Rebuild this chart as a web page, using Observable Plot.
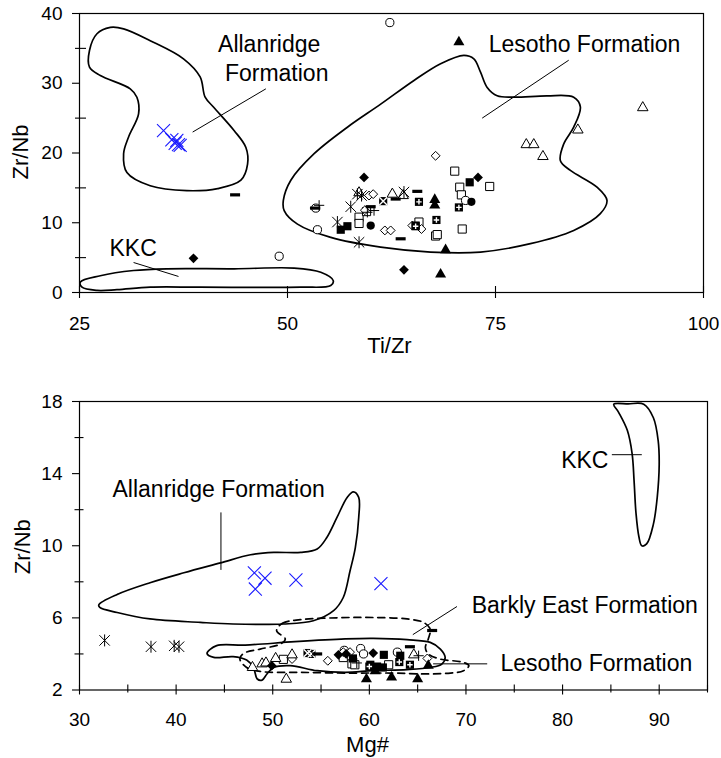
<!DOCTYPE html>
<html>
<head>
<meta charset="utf-8">
<script src="https://cdn.jsdelivr.net/npm/d3@7"></script>
<script src="https://cdn.jsdelivr.net/npm/@observablehq/plot@0.6"></script>
<style>
  body { margin: 0; background: #fff; }
  svg { display: block; }
</style>
</head>
<body>
<div id="chart"></div>
<script>
// ---------- Upper diagram: Zr/Nb vs Ti/Zr ----------
const tiZrTicks = [25, 50, 75, 100];
const zrNbTicksTop = [0, 10, 20, 30, 40];
const zrNbMinorTop = [5, 15, 25, 35];

// field outlines [Ti/Zr, Zr/Nb]
const allanridgeFieldTop = [[28.7,38.0],[30.3,37.8],[33.5,36.1],[37.5,33.5],[39.5,30.9],[40.1,28.0],[41.1,26.6],[43.6,23.2],[45.0,20.8],[45.2,18.4],[44.4,16.1],[41.6,14.9],[37.9,14.6],[33.5,15.3],[30.7,17.2],[30.3,19.9],[30.9,22.3],[32.1,25.6],[31.9,28.0],[31.1,29.2],[27.5,31.1],[26.2,32.3],[26.2,34.7],[27.1,37.1]];
const kkcFieldTop = [[25.1,1.5],[27.5,2.4],[31.5,3.15],[35.5,3.4],[43.6,3.4],[50.8,3.5],[54.0,2.9],[55.5,1.7],[55.2,1.0],[51.6,0.76],[39.5,0.76],[33.5,0.76],[29.5,0.4],[27.1,0.3],[25.3,0.76]];
const lesothoFieldTop = [[49.5,13.2],[50.4,16.1],[53.2,19.9],[57.2,23.7],[61.2,27.0],[65.2,30.4],[68.4,32.8],[71.2,34.0],[72.4,33.5],[73.2,31.6],[74.0,29.4],[75.2,28.2],[77.2,28.0],[81.2,28.2],[84.4,28.0],[85.2,26.6],[84.4,23.7],[83.2,21.3],[82.8,18.9],[84.0,17.5],[87.2,15.1],[88.4,13.2],[87.6,11.3],[84.4,8.9],[79.2,7.0],[73.2,5.8],[67.2,5.8],[61.2,6.5],[55.2,7.9],[51.2,9.8],[49.6,11.75]];

// samples [Ti/Zr, Zr/Nb]
const blueCrossTop = [[35.1,23.2],[36.1,21.9],[36.7,21.8],[36.5,21.4],[36.9,21.2],[37.1,21.1]];
const openCircleTop = [[62.3,38.7],[49.0,5.2],[53.4,12.1],[53.6,9.0],[71.4,13.2]];
const filledCircleTop = [[60.0,9.6],[72.1,13.0]];
const openSquareTop = [[70.1,17.4],[70.7,15.1],[74.3,15.2],[70.9,14.0],[71.0,9.1],[67.8,8.1],[68.0,8.3],[65.8,10.1],[58.6,10.8],[58.6,9.9],[59.5,11.6]];
const filledSquareTop = [[56.4,9.0],[57.2,9.5],[71.9,15.8],[65.4,9.6]];
const squarePlusTop = [[65.8,13.0],[67.9,10.4],[70.6,12.2],[65.4,9.5]];
const squareTimesTop = [[61.5,13.1]];
const openDiamondTop = [[67.8,19.6],[59.8,13.9],[60.3,14.1],[59.3,11.8],[61.7,8.9],[62.4,8.9],[65.0,9.6],[66.1,9.1]];
const filledDiamondTop = [[38.7,4.9],[59.2,16.5],[72.9,16.5],[64.0,3.25]];
const openTriangleTop = [[92.7,26.5],[84.9,23.3],[78.7,21.2],[79.6,21.2],[80.7,19.5],[62.6,14.1],[63.9,13.9],[58.6,14.3]];
const filledTriangleTop = [[70.6,35.9],[67.7,13.3],[67.7,12.5],[69.0,6.1],[68.4,2.6]];
const starTop = [[58.4,14.1],[57.6,12.3],[56.0,10.1],[58.6,7.2],[64.0,14.4],[58.9,13.9]];
const plusTop = [[53.8,12.5],[60.4,11.75],[59.6,11.5]];
const dashTop = [[43.7,14.0],[53.3,12.1],[60.0,12.3],[63.0,13.4],[63.6,7.7],[65.6,14.5]];

const notesTop = [
  {x: 47.8, y: 35.6, text: "Allanridge"},
  {x: 48.7, y: 31.4, text: "Formation"},
  {x: 31.45, y: 6.3, text: "KKC"},
  {x: 85.7, y: 35.6, text: "Lesotho Formation"}
];
const leadersTop = [
  {x1: 47.4, y1: 29.2, x2: 38.6, y2: 23.0},
  {x1: 31.5, y1: 4.3, x2: 36.9, y2: 2.3},
  {x1: 83.8, y1: 33.3, x2: 73.4, y2: 25.0}
];

// ---------- Lower diagram: Zr/Nb vs Mg# ----------
const mgTicks = [30, 40, 50, 60, 70, 80, 90];
const mgMinor = [35, 45, 55, 65, 75, 85, 95];
const zrNbTicksBottom = [2, 6, 10, 14, 18];
const zrNbMinorBottom = [4, 8, 12, 16];

// field outlines [Mg#, Zr/Nb]
const allanridgeFieldBottom = [[32.0,6.73],[33.9,7.3],[37.3,7.95],[40.8,8.5],[44.6,9.05],[47.7,9.5],[50.1,9.63],[52.9,9.63],[54.6,9.82],[55.6,10.46],[56.65,11.57],[57.7,12.68],[58.35,12.99],[58.9,12.68],[58.9,11.57],[58.55,9.9],[58.0,8.6],[57.3,7.13],[56.3,6.4],[54.2,5.84],[51.1,5.66],[45.9,5.66],[42.5,5.75],[37.3,5.94],[33.9,6.3],[32.1,6.58]];
const kkcFieldBottom = [[85.3,17.85],[86.8,17.87],[88.4,17.85],[89.4,17.1],[89.9,15.8],[90.0,14.5],[89.8,12.7],[89.4,11.2],[88.7,10.1],[88.2,10.0],[87.9,10.5],[87.6,11.8],[87.4,13.6],[87.2,15.1],[86.7,16.4],[85.8,17.4]];
const lesothoFieldBottom = [[43.2,4.03],[44.2,4.46],[47.15,4.49],[52.3,4.68],[57.5,4.83],[60.4,4.86],[63.9,4.79],[66.3,4.64],[67.35,4.27],[67.85,3.81],[67.5,3.44],[66.3,3.25],[63.9,3.13],[60.4,3.07],[57.5,2.98],[54.6,3.07],[51.8,3.35],[50.1,3.25],[49.4,2.89],[48.9,2.55],[48.4,2.61],[48.0,3.25],[47.3,3.66],[45.9,3.85],[43.9,3.81]];
const barklyEastFieldBottom = [[50.4,5.29],[51.0,5.7],[52.85,5.9],[57.0,6.01],[60.4,6.02],[63.9,5.94],[65.6,5.75],[66.3,5.38],[66.1,4.83],[65.8,4.36],[66.1,4.0],[67.3,3.72],[69.75,3.53],[70.3,3.35],[69.75,3.07],[68.4,2.94],[65.6,2.89],[62.2,2.94],[57.5,2.94],[52.85,2.98],[48.7,3.03],[47.3,3.25],[46.6,3.72],[47.0,4.03],[48.7,4.27],[50.8,4.55],[51.3,4.83]];

// samples [Mg#, Zr/Nb]
const blueCrossBottom = [[48.1,8.5],[49.2,8.2],[48.2,7.6],[52.4,8.1],[61.2,7.9]];
const starBottom = [[32.6,4.75],[37.4,4.4],[39.8,4.45],[40.3,4.4]];
const openTriangleBottom = [[51.4,2.6],[48.9,3.45],[50.3,3.75],[52.0,3.95],[47.9,3.25],[49.3,3.5],[64.6,3.95]];
const filledTriangleBottom = [[59.7,2.6],[62.3,2.7],[65.0,2.6],[66.1,3.35],[60.6,3.05]];
const filledDiamondBottom = [[49.9,3.35],[56.8,3.95],[60.4,4.05],[57.6,4.0]];
const openSquareBottom = [[51.1,3.7],[58.2,3.45],[58.5,3.4],[57.3,3.8],[62.0,3.4]];
const openDiamondBottom = [[52.0,3.72],[55.7,3.62],[57.3,4.1],[66.0,3.75],[58.0,4.1]];
const squareTimesBottom = [[53.6,4.05],[54.0,4.0]];
const filledSquareBottom = [[61.5,3.95],[60.1,3.4],[60.8,3.3],[63.2,3.9],[58.3,3.75],[61.4,3.25]];
const squarePlusBottom = [[63.1,3.55],[64.2,3.4],[60.0,3.3]];
const openCircleBottom = [[59.1,4.3],[59.4,4.0],[62.9,4.1],[57.4,4.2]];
const plusBottom = [[65.1,3.9],[58.7,3.5]];
const dashBottom = [[66.5,5.3],[64.2,4.4],[54.6,4.0]];

const notesBottom = [
  {x: 44.4, y: 13.1, text: "Allanridge Formation"},
  {x: 82.3, y: 14.7, text: "KKC"},
  {x: 82.3, y: 6.68, text: "Barkly East Formation"},
  {x: 83.5, y: 3.48, text: "Lesotho Formation"}
];
const leadersBottom = [
  {x1: 44.64, y1: 11.85, x2: 44.64, y2: 8.66},
  {x1: 85.1, y1: 15.05, x2: 88.2, y2: 15.05},
  {x1: 69.07, y1: 6.63, x2: 64.5, y2: 5.07},
  {x1: 66.6, y1: 3.45, x2: 72.2, y2: 3.45}
];

// ---------- symbols ----------
const FONT = "Liberation Sans, Arial, Helvetica, sans-serif";
const BLUE = "#1a1aff";

// Excel-style star: an X with a vertical bar through it
const starSymbol = {
  draw(ctx, size) {
    const r = Math.sqrt(size / Math.PI);
    ctx.moveTo(-r, -r); ctx.lineTo(r, r);
    ctx.moveTo(r, -r); ctx.lineTo(-r, r);
    ctx.moveTo(0, -r * 1.15); ctx.lineTo(0, r * 1.15);
  }
};
// short horizontal bar
const dashSymbol = {
  draw(ctx, size) {
    const r = Math.sqrt(size / Math.PI);
    ctx.rect(-r, -r * 0.32, 2 * r, r * 0.64);
  }
};

const pt = {x: d => d[0], y: d => d[1]};
const dots = (data, symbol, r, fill, stroke, strokeWidth = 1) =>
  Plot.dot(data, {...pt, symbol, r, fill, stroke, strokeWidth});

function sampleMarks(s) {
  return [
    dots(s.openSquare, "square", 4.6, "white", "black"),
    dots(s.openCircle, "circle", 4.1, "white", "black"),
    dots(s.openDiamond, "diamond2", 4.0, "white", "black"),
    dots(s.openTriangle, "triangle", 3.9, "white", "black"),
    dots(s.filledSquare, "square", 4.6, "black", "none"),
    dots(s.squarePlus, "square", 4.6, "black", "none"),
    dots(s.squarePlus, "plus", 1.9, "none", "white", 1.4),
    dots(s.squareTimes, "square", 4.6, "black", "none"),
    dots(s.squareTimes, "times", 3.6, "none", "white", 1.4),
    dots(s.filledCircle, "circle", 4.1, "black", "none"),
    dots(s.filledDiamond, "diamond2", 4.4, "black", "none"),
    dots(s.filledTriangle, "triangle", 4.1, "black", "none"),
    dots(s.star, starSymbol, 5.2, "none", "black", 1),
    dots(s.plus, "plus", 3.4, "none", "black", 1),
    dots(s.dash, dashSymbol, 5, "black", "none"),
    dots(s.blueCross, "times", 6, "none", BLUE, 1.1)
  ];
}

const field = (data, dashed = false) =>
  Plot.line(data, {...pt, curve: "catmull-rom-closed", stroke: "black", strokeWidth: 1.7,
    strokeDasharray: dashed ? "7,5" : null});

const leader = data => Plot.link(data, {x1: "x1", y1: "y1", x2: "x2", y2: "y2", stroke: "black", strokeWidth: 1});
const notes = data => Plot.text(data, {x: "x", y: "y", text: "text", fontSize: 23, fill: "black"});

const blankFormat = () => "";

// axis titles, placed relative to the frame
const xTitle = (label, dx, dy) =>
  Plot.text([label], {frameAnchor: "bottom", lineAnchor: "middle", textAnchor: "middle", dx, dy, fontSize: 22});
const yTitle = (label, dx, dy) =>
  Plot.text([label], {frameAnchor: "left", lineAnchor: "middle", textAnchor: "middle", rotate: -90, dx, dy, fontSize: 22});

// ---------- upper plot ----------
const upperPlot = Plot.plot({
  width: 721, height: 362,
  marginTop: 13, marginBottom: 70, marginLeft: 79, marginRight: 18,
  style: {fontFamily: FONT, fontSize: "19px", color: "black", background: "white"},
  x: {domain: [25, 100]},
  y: {domain: [0, 40]},
  marks: [
    field(allanridgeFieldTop),
    field(kkcFieldTop),
    field(lesothoFieldTop),
    leader(leadersTop),
    ...sampleMarks({
      openSquare: openSquareTop, openCircle: openCircleTop, openDiamond: openDiamondTop,
      openTriangle: openTriangleTop, filledSquare: filledSquareTop, squarePlus: squarePlusTop,
      squareTimes: squareTimesTop, filledCircle: filledCircleTop, filledDiamond: filledDiamondTop,
      filledTriangle: filledTriangleTop, star: starTop, plus: plusTop, dash: dashTop,
      blueCross: blueCrossTop
    }),
    notes(notesTop),
    Plot.frame({stroke: "black", strokeWidth: 1.2}),
    Plot.axisY({ticks: zrNbTicksTop, tickSize: 7, tickFormat: blankFormat, label: null, strokeWidth: 1.1}),
    Plot.axisY({ticks: zrNbMinorTop, tickSize: 11, dx: 7, tickFormat: blankFormat, label: null, strokeWidth: 1.1}),
    Plot.axisY({ticks: zrNbTicksTop, tickSize: 0, tickPadding: 17, label: null, fontSize: 19}),
    Plot.axisX({ticks: tiZrTicks, tickSize: 12, dy: -6, tickFormat: blankFormat, label: null, strokeWidth: 1.1}),
    Plot.axisX({ticks: tiZrTicks, tickSize: 0, tickPadding: 24, label: null, fontSize: 19}),
    xTitle("Ti/Zr", -2, 53),
    yTitle("Zr/Nb", -59, -1)
  ]
});

// ---------- lower plot ----------
const lowerPlot = Plot.plot({
  width: 721, height: 396,
  marginTop: 39, marginBottom: 68.5, marginLeft: 79, marginRight: 14,
  style: {fontFamily: FONT, fontSize: "19px", color: "black", background: "white"},
  x: {domain: [30, 95]},
  y: {domain: [2, 18]},
  marks: [
    field(allanridgeFieldBottom),
    field(kkcFieldBottom),
    field(barklyEastFieldBottom, true),
    field(lesothoFieldBottom),
    leader(leadersBottom),
    ...sampleMarks({
      openSquare: openSquareBottom, openCircle: openCircleBottom, openDiamond: openDiamondBottom,
      openTriangle: openTriangleBottom, filledSquare: filledSquareBottom, squarePlus: squarePlusBottom,
      squareTimes: squareTimesBottom, filledCircle: [], filledDiamond: filledDiamondBottom,
      filledTriangle: filledTriangleBottom, star: starBottom, plus: plusBottom, dash: dashBottom,
      blueCross: blueCrossBottom
    }),
    notes(notesBottom),
    Plot.frame({stroke: "black", strokeWidth: 1.2}),
    Plot.axisY({ticks: zrNbTicksBottom, tickSize: 7, tickFormat: blankFormat, label: null, strokeWidth: 1.1}),
    Plot.axisY({ticks: zrNbMinorBottom, tickSize: 9, dx: 4.5, tickFormat: blankFormat, label: null, strokeWidth: 1.1}),
    Plot.axisY({ticks: zrNbTicksBottom, tickSize: 0, tickPadding: 17, label: null, fontSize: 19}),
    Plot.axisX({ticks: mgTicks, tickSize: 10, dy: -5, tickFormat: blankFormat, label: null, strokeWidth: 1.1}),
    Plot.axisX({ticks: mgMinor, tickSize: 8, dy: -5, tickFormat: blankFormat, label: null, strokeWidth: 1.1}),
    Plot.axisX({ticks: mgTicks, tickSize: 0, tickPadding: 22, label: null, fontSize: 19}),
    xTitle("Mg#", -26, 55),
    yTitle("Zr/Nb", -57, 1)
  ]
});

document.getElementById("chart").append(upperPlot, lowerPlot);
</script>
</body>
</html>
